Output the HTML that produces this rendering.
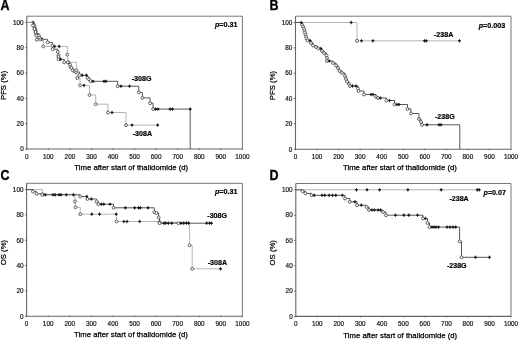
<!DOCTYPE html>
<html><head><meta charset="utf-8"><style>
html,body{margin:0;padding:0;background:#fff;}
body{width:520px;height:340px;overflow:hidden;}
svg{display:block;filter:blur(0.3px);}
text{font-family:"Liberation Sans",sans-serif;}
.tk{font-size:6.4px;fill:#111;stroke:#111;stroke-width:0.18px;}
.ttl{font-size:7.75px;fill:#000;stroke:#000;stroke-width:0.25px;}
.let{font-size:12.5px;font-weight:bold;fill:#000;stroke:#000;stroke-width:0.3px;}
.lab{font-size:7.1px;font-weight:bold;fill:#000;stroke:#000;stroke-width:0.2px;}
.pv{font-size:7.2px;font-weight:bold;fill:#000;stroke:#000;stroke-width:0.2px;}
</style></head><body>
<svg width="520" height="340" viewBox="0 0 520 340">
<path d="M26.8,16.2 H242.4 V149.0" fill="none" stroke="#777" stroke-width="1"/>
<path d="M26.8,16.2 V149.0 H242.4" fill="none" stroke="#666" stroke-width="1.1"/>
<path d="M25.2,22.40 H26.8" stroke="#555" stroke-width="0.9"/>
<text x="23.70" y="24.70" class="tk" text-anchor="end">100</text>
<path d="M25.2,47.72 H26.8" stroke="#555" stroke-width="0.9"/>
<text x="23.70" y="50.02" class="tk" text-anchor="end">80</text>
<path d="M25.2,73.04 H26.8" stroke="#555" stroke-width="0.9"/>
<text x="23.70" y="75.34" class="tk" text-anchor="end">60</text>
<path d="M25.2,98.36 H26.8" stroke="#555" stroke-width="0.9"/>
<text x="23.70" y="100.66" class="tk" text-anchor="end">40</text>
<path d="M25.2,123.68 H26.8" stroke="#555" stroke-width="0.9"/>
<text x="23.70" y="125.98" class="tk" text-anchor="end">20</text>
<path d="M25.2,149.00 H26.8" stroke="#555" stroke-width="0.9"/>
<text x="23.70" y="151.30" class="tk" text-anchor="end">0</text>
<path d="M26.80,148.6 V150.0" stroke="#555" stroke-width="0.9"/>
<text x="26.80" y="158.50" class="tk" text-anchor="middle">0</text>
<path d="M48.36,148.6 V150.0" stroke="#555" stroke-width="0.9"/>
<text x="48.36" y="158.50" class="tk" text-anchor="middle">100</text>
<path d="M69.92,148.6 V150.0" stroke="#555" stroke-width="0.9"/>
<text x="69.92" y="158.50" class="tk" text-anchor="middle">200</text>
<path d="M91.48,148.6 V150.0" stroke="#555" stroke-width="0.9"/>
<text x="91.48" y="158.50" class="tk" text-anchor="middle">300</text>
<path d="M113.04,148.6 V150.0" stroke="#555" stroke-width="0.9"/>
<text x="113.04" y="158.50" class="tk" text-anchor="middle">400</text>
<path d="M134.60,148.6 V150.0" stroke="#555" stroke-width="0.9"/>
<text x="134.60" y="158.50" class="tk" text-anchor="middle">500</text>
<path d="M156.16,148.6 V150.0" stroke="#555" stroke-width="0.9"/>
<text x="156.16" y="158.50" class="tk" text-anchor="middle">600</text>
<path d="M177.72,148.6 V150.0" stroke="#555" stroke-width="0.9"/>
<text x="177.72" y="158.50" class="tk" text-anchor="middle">700</text>
<path d="M199.28,148.6 V150.0" stroke="#555" stroke-width="0.9"/>
<text x="199.28" y="158.50" class="tk" text-anchor="middle">800</text>
<path d="M220.84,148.6 V150.0" stroke="#555" stroke-width="0.9"/>
<text x="220.84" y="158.50" class="tk" text-anchor="middle">900</text>
<path d="M242.40,148.6 V150.0" stroke="#555" stroke-width="0.9"/>
<text x="242.40" y="158.50" class="tk" text-anchor="middle">1000</text>
<text x="74.30" y="170.20" class="ttl">Time after start of thalidomide (d)</text>
<text transform="translate(5.9,85.40) rotate(-90)" class="ttl" text-anchor="middle">PFS (%)</text>
<text transform="translate(0.50,10.10) scale(1,1.1)" class="let">A</text>
<path d="M26.8,22.4 H33.0 H33.8 V24.6 H34.5 V26.6 H35.3 V28.9 H35.8 V31.2 H36.1 V33.6 H38.9 V35.6 H39.5 V37.7 H40.5 V39.3 H42.0 H46.3 H47.6 V42.4 H52.4 V45.8 H52.6 V49.2 H57.8 V51.9 H58.5 V55.2 V57.0 H58.6 V59.3 H60.5 H64.2 V62.3 H68.8 H70.0 V64.5 H70.5 V66.8 H71.5 V68.0 H72.8 V70.3 H74.6 V71.4 H76.1 V72.1 H79.6 V75.3 H82.2 H86.4 H87.6 V77.9 H89.1 V79.4 H90.6 V81.3 H93.0 H104.0 H106.0 H117.7 V86.2 H121.0 H129.5 H138.6 H138.8 V92.4 H142.4 V97.9 H150.1 V103.2 H153.1 V109.1 H155.6 H158.0 H170.1 H172.5 H190.2 V149.0" fill="none" stroke="#444" stroke-width="0.9"/>
<circle cx="33.8" cy="24.6" r="1.45" fill="#fff" stroke="#333" stroke-width="0.75"/>
<circle cx="34.5" cy="26.6" r="1.45" fill="#fff" stroke="#333" stroke-width="0.75"/>
<circle cx="35.3" cy="28.9" r="1.45" fill="#fff" stroke="#333" stroke-width="0.75"/>
<circle cx="35.8" cy="31.2" r="1.45" fill="#fff" stroke="#333" stroke-width="0.75"/>
<circle cx="36.1" cy="33.6" r="1.45" fill="#fff" stroke="#333" stroke-width="0.75"/>
<circle cx="38.9" cy="35.6" r="1.45" fill="#fff" stroke="#333" stroke-width="0.75"/>
<circle cx="39.5" cy="37.7" r="1.45" fill="#fff" stroke="#333" stroke-width="0.75"/>
<circle cx="40.5" cy="39.3" r="1.45" fill="#fff" stroke="#333" stroke-width="0.75"/>
<circle cx="47.6" cy="42.4" r="1.45" fill="#fff" stroke="#333" stroke-width="0.75"/>
<circle cx="52.4" cy="45.8" r="1.45" fill="#fff" stroke="#333" stroke-width="0.75"/>
<circle cx="52.6" cy="49.2" r="1.45" fill="#fff" stroke="#333" stroke-width="0.75"/>
<circle cx="57.8" cy="51.9" r="1.45" fill="#fff" stroke="#333" stroke-width="0.75"/>
<circle cx="58.5" cy="55.2" r="1.45" fill="#fff" stroke="#333" stroke-width="0.75"/>
<circle cx="58.5" cy="57.0" r="1.45" fill="#fff" stroke="#333" stroke-width="0.75"/>
<circle cx="58.6" cy="59.3" r="1.45" fill="#fff" stroke="#333" stroke-width="0.75"/>
<circle cx="64.2" cy="62.3" r="1.45" fill="#fff" stroke="#333" stroke-width="0.75"/>
<circle cx="70.0" cy="64.5" r="1.45" fill="#fff" stroke="#333" stroke-width="0.75"/>
<circle cx="70.5" cy="66.8" r="1.45" fill="#fff" stroke="#333" stroke-width="0.75"/>
<circle cx="71.5" cy="68.0" r="1.45" fill="#fff" stroke="#333" stroke-width="0.75"/>
<circle cx="72.8" cy="70.3" r="1.45" fill="#fff" stroke="#333" stroke-width="0.75"/>
<circle cx="74.6" cy="71.4" r="1.45" fill="#fff" stroke="#333" stroke-width="0.75"/>
<circle cx="76.1" cy="72.1" r="1.45" fill="#fff" stroke="#333" stroke-width="0.75"/>
<circle cx="79.6" cy="75.3" r="1.45" fill="#fff" stroke="#333" stroke-width="0.75"/>
<circle cx="87.6" cy="77.9" r="1.45" fill="#fff" stroke="#333" stroke-width="0.75"/>
<circle cx="89.1" cy="79.4" r="1.45" fill="#fff" stroke="#333" stroke-width="0.75"/>
<circle cx="90.6" cy="81.3" r="1.45" fill="#fff" stroke="#333" stroke-width="0.75"/>
<circle cx="117.7" cy="86.2" r="1.45" fill="#fff" stroke="#333" stroke-width="0.75"/>
<circle cx="138.8" cy="92.4" r="1.45" fill="#fff" stroke="#333" stroke-width="0.75"/>
<circle cx="142.4" cy="97.9" r="1.45" fill="#fff" stroke="#333" stroke-width="0.75"/>
<circle cx="150.1" cy="103.2" r="1.45" fill="#fff" stroke="#333" stroke-width="0.75"/>
<circle cx="153.1" cy="109.1" r="1.45" fill="#fff" stroke="#333" stroke-width="0.75"/>
<path d="M31.6,22.4 L33.0,21.299999999999997 L34.4,22.4 L33.0,23.5 Z M33.0,20.599999999999998 V24.2" fill="#111" stroke="#111" stroke-width="0.5"/>
<path d="M40.6,39.3 L42.0,38.199999999999996 L43.4,39.3 L42.0,40.4 Z M42.0,37.5 V41.099999999999994" fill="#111" stroke="#111" stroke-width="0.5"/>
<path d="M59.1,59.3 L60.5,58.199999999999996 L61.9,59.3 L60.5,60.4 Z M60.5,57.5 V61.099999999999994" fill="#111" stroke="#111" stroke-width="0.5"/>
<path d="M67.39999999999999,62.3 L68.8,61.199999999999996 L70.2,62.3 L68.8,63.4 Z M68.8,60.5 V64.1" fill="#111" stroke="#111" stroke-width="0.5"/>
<path d="M80.8,75.3 L82.2,74.2 L83.60000000000001,75.3 L82.2,76.39999999999999 Z M82.2,73.5 V77.1" fill="#111" stroke="#111" stroke-width="0.5"/>
<path d="M85.0,75.3 L86.4,74.2 L87.80000000000001,75.3 L86.4,76.39999999999999 Z M86.4,73.5 V77.1" fill="#111" stroke="#111" stroke-width="0.5"/>
<path d="M91.6,81.3 L93.0,80.2 L94.4,81.3 L93.0,82.39999999999999 Z M93.0,79.5 V83.1" fill="#111" stroke="#111" stroke-width="0.5"/>
<path d="M102.6,81.3 L104.0,80.2 L105.4,81.3 L104.0,82.39999999999999 Z M104.0,79.5 V83.1" fill="#111" stroke="#111" stroke-width="0.5"/>
<path d="M104.6,81.3 L106.0,80.2 L107.4,81.3 L106.0,82.39999999999999 Z M106.0,79.5 V83.1" fill="#111" stroke="#111" stroke-width="0.5"/>
<path d="M119.6,86.2 L121.0,85.10000000000001 L122.4,86.2 L121.0,87.3 Z M121.0,84.4 V88.0" fill="#111" stroke="#111" stroke-width="0.5"/>
<path d="M128.1,86.2 L129.5,85.10000000000001 L130.9,86.2 L129.5,87.3 Z M129.5,84.4 V88.0" fill="#111" stroke="#111" stroke-width="0.5"/>
<path d="M154.2,109.1 L155.6,108.0 L157.0,109.1 L155.6,110.19999999999999 Z M155.6,107.3 V110.89999999999999" fill="#111" stroke="#111" stroke-width="0.5"/>
<path d="M156.6,109.1 L158.0,108.0 L159.4,109.1 L158.0,110.19999999999999 Z M158.0,107.3 V110.89999999999999" fill="#111" stroke="#111" stroke-width="0.5"/>
<path d="M168.7,109.1 L170.1,108.0 L171.5,109.1 L170.1,110.19999999999999 Z M170.1,107.3 V110.89999999999999" fill="#111" stroke="#111" stroke-width="0.5"/>
<path d="M171.1,109.1 L172.5,108.0 L173.9,109.1 L172.5,110.19999999999999 Z M172.5,107.3 V110.89999999999999" fill="#111" stroke="#111" stroke-width="0.5"/>
<path d="M188.79999999999998,109.1 L190.2,108.0 L191.6,109.1 L190.2,110.19999999999999 Z M190.2,107.3 V110.89999999999999" fill="#111" stroke="#111" stroke-width="0.5"/>
<path d="M26.8,22.4 H32.0 H33.0 V25.5 H34.5 V29.0 H35.5 V32.0 H36.2 V35.5 H36.8 V39.7 H43.3 V46.4 H54.6 H59.2 H67.3 V54.6 H67.7 V62.3 H76.4 V70.4 H77.3 V78.0 H80.0 V85.4 H84.0 H89.5 V95.0 H95.7 V104.2 H108.0 V112.5 H112.0 H126.0 V125.1 H132.0 H157.7" fill="none" stroke="#aeaeae" stroke-width="0.9"/>
<circle cx="33.0" cy="25.5" r="1.45" fill="#fff" stroke="#333" stroke-width="0.75"/>
<circle cx="34.5" cy="29.0" r="1.45" fill="#fff" stroke="#333" stroke-width="0.75"/>
<circle cx="35.5" cy="32.0" r="1.45" fill="#fff" stroke="#333" stroke-width="0.75"/>
<circle cx="36.2" cy="35.5" r="1.45" fill="#fff" stroke="#333" stroke-width="0.75"/>
<circle cx="36.8" cy="39.7" r="1.45" fill="#fff" stroke="#333" stroke-width="0.75"/>
<circle cx="43.3" cy="46.4" r="1.45" fill="#fff" stroke="#333" stroke-width="0.75"/>
<circle cx="67.3" cy="54.6" r="1.45" fill="#fff" stroke="#333" stroke-width="0.75"/>
<circle cx="67.7" cy="62.3" r="1.45" fill="#fff" stroke="#333" stroke-width="0.75"/>
<circle cx="76.4" cy="70.4" r="1.45" fill="#fff" stroke="#333" stroke-width="0.75"/>
<circle cx="77.3" cy="78.0" r="1.45" fill="#fff" stroke="#333" stroke-width="0.75"/>
<circle cx="80.0" cy="85.4" r="1.45" fill="#fff" stroke="#333" stroke-width="0.75"/>
<circle cx="89.5" cy="95.0" r="1.45" fill="#fff" stroke="#333" stroke-width="0.75"/>
<circle cx="95.7" cy="104.2" r="1.45" fill="#fff" stroke="#333" stroke-width="0.75"/>
<circle cx="108.0" cy="112.5" r="1.45" fill="#fff" stroke="#333" stroke-width="0.75"/>
<circle cx="126.0" cy="125.1" r="1.45" fill="#fff" stroke="#333" stroke-width="0.75"/>
<path d="M53.2,46.4 L54.6,45.3 L56.0,46.4 L54.6,47.5 Z M54.6,44.6 V48.199999999999996" fill="#111" stroke="#111" stroke-width="0.5"/>
<path d="M57.800000000000004,46.4 L59.2,45.3 L60.6,46.4 L59.2,47.5 Z M59.2,44.6 V48.199999999999996" fill="#111" stroke="#111" stroke-width="0.5"/>
<path d="M82.6,85.4 L84.0,84.30000000000001 L85.4,85.4 L84.0,86.5 Z M84.0,83.60000000000001 V87.2" fill="#111" stroke="#111" stroke-width="0.5"/>
<path d="M110.6,112.5 L112.0,111.4 L113.4,112.5 L112.0,113.6 Z M112.0,110.7 V114.3" fill="#111" stroke="#111" stroke-width="0.5"/>
<path d="M130.6,125.1 L132.0,124.0 L133.4,125.1 L132.0,126.19999999999999 Z M132.0,123.3 V126.89999999999999" fill="#111" stroke="#111" stroke-width="0.5"/>
<path d="M156.29999999999998,125.1 L157.7,124.0 L159.1,125.1 L157.7,126.19999999999999 Z M157.7,123.3 V126.89999999999999" fill="#111" stroke="#111" stroke-width="0.5"/>
<text x="131.7" y="81.2" class="lab">-308G</text>
<text x="132.7" y="135.7" class="lab">-308A</text>
<text x="214.9" y="26.8" class="pv"><tspan font-style="italic">p</tspan>=0.31</text>
<path d="M295.5,16.2 H511.0 V149.2" fill="none" stroke="#777" stroke-width="1"/>
<path d="M295.5,16.2 V149.2 H511.0" fill="none" stroke="#666" stroke-width="1.1"/>
<path d="M293.9,22.50 H295.5" stroke="#555" stroke-width="0.9"/>
<text x="292.40" y="24.80" class="tk" text-anchor="end">100</text>
<path d="M293.9,47.84 H295.5" stroke="#555" stroke-width="0.9"/>
<text x="292.40" y="50.14" class="tk" text-anchor="end">80</text>
<path d="M293.9,73.18 H295.5" stroke="#555" stroke-width="0.9"/>
<text x="292.40" y="75.48" class="tk" text-anchor="end">60</text>
<path d="M293.9,98.52 H295.5" stroke="#555" stroke-width="0.9"/>
<text x="292.40" y="100.82" class="tk" text-anchor="end">40</text>
<path d="M293.9,123.86 H295.5" stroke="#555" stroke-width="0.9"/>
<text x="292.40" y="126.16" class="tk" text-anchor="end">20</text>
<path d="M293.9,149.20 H295.5" stroke="#555" stroke-width="0.9"/>
<text x="292.40" y="151.50" class="tk" text-anchor="end">0</text>
<path d="M295.50,148.79999999999998 V150.2" stroke="#555" stroke-width="0.9"/>
<text x="295.50" y="158.70" class="tk" text-anchor="middle">0</text>
<path d="M317.05,148.79999999999998 V150.2" stroke="#555" stroke-width="0.9"/>
<text x="317.05" y="158.70" class="tk" text-anchor="middle">100</text>
<path d="M338.60,148.79999999999998 V150.2" stroke="#555" stroke-width="0.9"/>
<text x="338.60" y="158.70" class="tk" text-anchor="middle">200</text>
<path d="M360.15,148.79999999999998 V150.2" stroke="#555" stroke-width="0.9"/>
<text x="360.15" y="158.70" class="tk" text-anchor="middle">300</text>
<path d="M381.70,148.79999999999998 V150.2" stroke="#555" stroke-width="0.9"/>
<text x="381.70" y="158.70" class="tk" text-anchor="middle">400</text>
<path d="M403.25,148.79999999999998 V150.2" stroke="#555" stroke-width="0.9"/>
<text x="403.25" y="158.70" class="tk" text-anchor="middle">500</text>
<path d="M424.80,148.79999999999998 V150.2" stroke="#555" stroke-width="0.9"/>
<text x="424.80" y="158.70" class="tk" text-anchor="middle">600</text>
<path d="M446.35,148.79999999999998 V150.2" stroke="#555" stroke-width="0.9"/>
<text x="446.35" y="158.70" class="tk" text-anchor="middle">700</text>
<path d="M467.90,148.79999999999998 V150.2" stroke="#555" stroke-width="0.9"/>
<text x="467.90" y="158.70" class="tk" text-anchor="middle">800</text>
<path d="M489.45,148.79999999999998 V150.2" stroke="#555" stroke-width="0.9"/>
<text x="489.45" y="158.70" class="tk" text-anchor="middle">900</text>
<path d="M511.00,148.79999999999998 V150.2" stroke="#555" stroke-width="0.9"/>
<text x="511.00" y="158.70" class="tk" text-anchor="middle">1000</text>
<text x="343.00" y="170.40" class="ttl">Time after start of thalidomide (d)</text>
<text transform="translate(274.59999999999997,85.50) rotate(-90)" class="ttl" text-anchor="middle">PFS (%)</text>
<text transform="translate(269.60,10.10) scale(1,1.1)" class="let">B</text>
<path d="M295.5,22.5 H351.2 H357.0 V40.8 H361.5 H372.9 H424.5 H426.3 H459.5" fill="none" stroke="#aeaeae" stroke-width="0.9"/>
<circle cx="357.0" cy="40.8" r="1.45" fill="#fff" stroke="#333" stroke-width="0.75"/>
<path d="M349.8,22.5 L351.2,21.4 L352.59999999999997,22.5 L351.2,23.6 Z M351.2,20.7 V24.3" fill="#111" stroke="#111" stroke-width="0.5"/>
<path d="M360.1,40.8 L361.5,39.699999999999996 L362.9,40.8 L361.5,41.9 Z M361.5,39.0 V42.599999999999994" fill="#111" stroke="#111" stroke-width="0.5"/>
<path d="M371.5,40.8 L372.9,39.699999999999996 L374.29999999999995,40.8 L372.9,41.9 Z M372.9,39.0 V42.599999999999994" fill="#111" stroke="#111" stroke-width="0.5"/>
<path d="M423.1,40.8 L424.5,39.699999999999996 L425.9,40.8 L424.5,41.9 Z M424.5,39.0 V42.599999999999994" fill="#111" stroke="#111" stroke-width="0.5"/>
<path d="M424.90000000000003,40.8 L426.3,39.699999999999996 L427.7,40.8 L426.3,41.9 Z M426.3,39.0 V42.599999999999994" fill="#111" stroke="#111" stroke-width="0.5"/>
<path d="M458.1,40.8 L459.5,39.699999999999996 L460.9,40.8 L459.5,41.9 Z M459.5,39.0 V42.599999999999994" fill="#111" stroke="#111" stroke-width="0.5"/>
<path d="M295.5,22.5 H301.3 H302.0 V24.5 H303.0 V26.5 H304.0 V28.5 H304.5 V30.5 H305.0 V32.5 H305.5 V34.5 H306.0 V36.5 H306.5 V38.5 H307.5 V40.5 H310.0 H311.0 V43.0 H313.0 V45.5 H316.0 V47.0 H318.5 V48.5 H320.8 H322.0 V51.0 H324.0 V53.0 H326.5 V55.5 H327.0 V58.0 V61.0 H329.3 H333.0 V63.0 H336.0 V65.5 H338.0 V68.0 H339.5 V71.0 H342.0 V73.0 H345.0 V76.0 H346.0 V79.0 H347.0 V81.5 H349.0 V84.0 H350.0 V86.0 H352.5 H356.0 H358.0 V88.5 H358.5 V91.0 H364.0 V94.5 H371.0 H373.0 H376.0 V97.0 H378.0 V98.0 H380.3 H386.5 V100.5 H389.5 H394.5 V104.5 H397.0 H399.0 H407.5 V109.0 H411.0 V113.5 H419.0 V119.0 H421.0 V122.0 H422.0 V124.8 H427.0 H439.0 H441.0 H459.8 V149.2" fill="none" stroke="#444" stroke-width="0.9"/>
<circle cx="302.0" cy="24.5" r="1.45" fill="#fff" stroke="#333" stroke-width="0.75"/>
<circle cx="303.0" cy="26.5" r="1.45" fill="#fff" stroke="#333" stroke-width="0.75"/>
<circle cx="304.0" cy="28.5" r="1.45" fill="#fff" stroke="#333" stroke-width="0.75"/>
<circle cx="304.5" cy="30.5" r="1.45" fill="#fff" stroke="#333" stroke-width="0.75"/>
<circle cx="305.0" cy="32.5" r="1.45" fill="#fff" stroke="#333" stroke-width="0.75"/>
<circle cx="305.5" cy="34.5" r="1.45" fill="#fff" stroke="#333" stroke-width="0.75"/>
<circle cx="306.0" cy="36.5" r="1.45" fill="#fff" stroke="#333" stroke-width="0.75"/>
<circle cx="306.5" cy="38.5" r="1.45" fill="#fff" stroke="#333" stroke-width="0.75"/>
<circle cx="307.5" cy="40.5" r="1.45" fill="#fff" stroke="#333" stroke-width="0.75"/>
<circle cx="311.0" cy="43.0" r="1.45" fill="#fff" stroke="#333" stroke-width="0.75"/>
<circle cx="313.0" cy="45.5" r="1.45" fill="#fff" stroke="#333" stroke-width="0.75"/>
<circle cx="316.0" cy="47.0" r="1.45" fill="#fff" stroke="#333" stroke-width="0.75"/>
<circle cx="318.5" cy="48.5" r="1.45" fill="#fff" stroke="#333" stroke-width="0.75"/>
<circle cx="322.0" cy="51.0" r="1.45" fill="#fff" stroke="#333" stroke-width="0.75"/>
<circle cx="324.0" cy="53.0" r="1.45" fill="#fff" stroke="#333" stroke-width="0.75"/>
<circle cx="326.5" cy="55.5" r="1.45" fill="#fff" stroke="#333" stroke-width="0.75"/>
<circle cx="327.0" cy="58.0" r="1.45" fill="#fff" stroke="#333" stroke-width="0.75"/>
<circle cx="327.0" cy="61.0" r="1.45" fill="#fff" stroke="#333" stroke-width="0.75"/>
<circle cx="333.0" cy="63.0" r="1.45" fill="#fff" stroke="#333" stroke-width="0.75"/>
<circle cx="336.0" cy="65.5" r="1.45" fill="#fff" stroke="#333" stroke-width="0.75"/>
<circle cx="338.0" cy="68.0" r="1.45" fill="#fff" stroke="#333" stroke-width="0.75"/>
<circle cx="339.5" cy="71.0" r="1.45" fill="#fff" stroke="#333" stroke-width="0.75"/>
<circle cx="342.0" cy="73.0" r="1.45" fill="#fff" stroke="#333" stroke-width="0.75"/>
<circle cx="345.0" cy="76.0" r="1.45" fill="#fff" stroke="#333" stroke-width="0.75"/>
<circle cx="346.0" cy="79.0" r="1.45" fill="#fff" stroke="#333" stroke-width="0.75"/>
<circle cx="347.0" cy="81.5" r="1.45" fill="#fff" stroke="#333" stroke-width="0.75"/>
<circle cx="349.0" cy="84.0" r="1.45" fill="#fff" stroke="#333" stroke-width="0.75"/>
<circle cx="350.0" cy="86.0" r="1.45" fill="#fff" stroke="#333" stroke-width="0.75"/>
<circle cx="358.0" cy="88.5" r="1.45" fill="#fff" stroke="#333" stroke-width="0.75"/>
<circle cx="358.5" cy="91.0" r="1.45" fill="#fff" stroke="#333" stroke-width="0.75"/>
<circle cx="364.0" cy="94.5" r="1.45" fill="#fff" stroke="#333" stroke-width="0.75"/>
<circle cx="376.0" cy="97.0" r="1.45" fill="#fff" stroke="#333" stroke-width="0.75"/>
<circle cx="378.0" cy="98.0" r="1.45" fill="#fff" stroke="#333" stroke-width="0.75"/>
<circle cx="386.5" cy="100.5" r="1.45" fill="#fff" stroke="#333" stroke-width="0.75"/>
<circle cx="394.5" cy="104.5" r="1.45" fill="#fff" stroke="#333" stroke-width="0.75"/>
<circle cx="407.5" cy="109.0" r="1.45" fill="#fff" stroke="#333" stroke-width="0.75"/>
<circle cx="411.0" cy="113.5" r="1.45" fill="#fff" stroke="#333" stroke-width="0.75"/>
<circle cx="419.0" cy="119.0" r="1.45" fill="#fff" stroke="#333" stroke-width="0.75"/>
<circle cx="421.0" cy="122.0" r="1.45" fill="#fff" stroke="#333" stroke-width="0.75"/>
<circle cx="422.0" cy="124.8" r="1.45" fill="#fff" stroke="#333" stroke-width="0.75"/>
<path d="M299.90000000000003,22.5 L301.3,21.4 L302.7,22.5 L301.3,23.6 Z M301.3,20.7 V24.3" fill="#111" stroke="#111" stroke-width="0.5"/>
<path d="M308.6,40.5 L310.0,39.4 L311.4,40.5 L310.0,41.6 Z M310.0,38.7 V42.3" fill="#111" stroke="#111" stroke-width="0.5"/>
<path d="M319.40000000000003,48.5 L320.8,47.4 L322.2,48.5 L320.8,49.6 Z M320.8,46.7 V50.3" fill="#111" stroke="#111" stroke-width="0.5"/>
<path d="M327.90000000000003,61.0 L329.3,59.9 L330.7,61.0 L329.3,62.1 Z M329.3,59.2 V62.8" fill="#111" stroke="#111" stroke-width="0.5"/>
<path d="M351.1,86.0 L352.5,84.9 L353.9,86.0 L352.5,87.1 Z M352.5,84.2 V87.8" fill="#111" stroke="#111" stroke-width="0.5"/>
<path d="M354.6,86.0 L356.0,84.9 L357.4,86.0 L356.0,87.1 Z M356.0,84.2 V87.8" fill="#111" stroke="#111" stroke-width="0.5"/>
<path d="M369.6,94.5 L371.0,93.4 L372.4,94.5 L371.0,95.6 Z M371.0,92.7 V96.3" fill="#111" stroke="#111" stroke-width="0.5"/>
<path d="M371.6,94.5 L373.0,93.4 L374.4,94.5 L373.0,95.6 Z M373.0,92.7 V96.3" fill="#111" stroke="#111" stroke-width="0.5"/>
<path d="M378.90000000000003,98.0 L380.3,96.9 L381.7,98.0 L380.3,99.1 Z M380.3,96.2 V99.8" fill="#111" stroke="#111" stroke-width="0.5"/>
<path d="M388.1,100.5 L389.5,99.4 L390.9,100.5 L389.5,101.6 Z M389.5,98.7 V102.3" fill="#111" stroke="#111" stroke-width="0.5"/>
<path d="M395.6,104.5 L397.0,103.4 L398.4,104.5 L397.0,105.6 Z M397.0,102.7 V106.3" fill="#111" stroke="#111" stroke-width="0.5"/>
<path d="M397.6,104.5 L399.0,103.4 L400.4,104.5 L399.0,105.6 Z M399.0,102.7 V106.3" fill="#111" stroke="#111" stroke-width="0.5"/>
<path d="M425.6,124.8 L427.0,123.7 L428.4,124.8 L427.0,125.89999999999999 Z M427.0,123.0 V126.6" fill="#111" stroke="#111" stroke-width="0.5"/>
<path d="M437.6,124.8 L439.0,123.7 L440.4,124.8 L439.0,125.89999999999999 Z M439.0,123.0 V126.6" fill="#111" stroke="#111" stroke-width="0.5"/>
<path d="M439.6,124.8 L441.0,123.7 L442.4,124.8 L441.0,125.89999999999999 Z M441.0,123.0 V126.6" fill="#111" stroke="#111" stroke-width="0.5"/>
<text x="434.0" y="36.7" class="lab">-238A</text>
<text x="435.0" y="119.3" class="lab">-238G</text>
<text x="478.7" y="28.4" class="pv"><tspan font-style="italic">p</tspan>=0.003</text>
<path d="M26.6,183.3 H242.4 V316.2" fill="none" stroke="#777" stroke-width="1"/>
<path d="M26.6,183.3 V316.2 H242.4" fill="none" stroke="#666" stroke-width="1.1"/>
<path d="M25.0,189.60 H26.6" stroke="#555" stroke-width="0.9"/>
<text x="23.50" y="191.90" class="tk" text-anchor="end">100</text>
<path d="M25.0,214.92 H26.6" stroke="#555" stroke-width="0.9"/>
<text x="23.50" y="217.22" class="tk" text-anchor="end">80</text>
<path d="M25.0,240.24 H26.6" stroke="#555" stroke-width="0.9"/>
<text x="23.50" y="242.54" class="tk" text-anchor="end">60</text>
<path d="M25.0,265.56 H26.6" stroke="#555" stroke-width="0.9"/>
<text x="23.50" y="267.86" class="tk" text-anchor="end">40</text>
<path d="M25.0,290.88 H26.6" stroke="#555" stroke-width="0.9"/>
<text x="23.50" y="293.18" class="tk" text-anchor="end">20</text>
<path d="M25.0,316.20 H26.6" stroke="#555" stroke-width="0.9"/>
<text x="23.50" y="318.50" class="tk" text-anchor="end">0</text>
<path d="M26.60,315.8 V317.2" stroke="#555" stroke-width="0.9"/>
<text x="26.60" y="325.70" class="tk" text-anchor="middle">0</text>
<path d="M48.18,315.8 V317.2" stroke="#555" stroke-width="0.9"/>
<text x="48.18" y="325.70" class="tk" text-anchor="middle">100</text>
<path d="M69.76,315.8 V317.2" stroke="#555" stroke-width="0.9"/>
<text x="69.76" y="325.70" class="tk" text-anchor="middle">200</text>
<path d="M91.34,315.8 V317.2" stroke="#555" stroke-width="0.9"/>
<text x="91.34" y="325.70" class="tk" text-anchor="middle">300</text>
<path d="M112.92,315.8 V317.2" stroke="#555" stroke-width="0.9"/>
<text x="112.92" y="325.70" class="tk" text-anchor="middle">400</text>
<path d="M134.50,315.8 V317.2" stroke="#555" stroke-width="0.9"/>
<text x="134.50" y="325.70" class="tk" text-anchor="middle">500</text>
<path d="M156.08,315.8 V317.2" stroke="#555" stroke-width="0.9"/>
<text x="156.08" y="325.70" class="tk" text-anchor="middle">600</text>
<path d="M177.66,315.8 V317.2" stroke="#555" stroke-width="0.9"/>
<text x="177.66" y="325.70" class="tk" text-anchor="middle">700</text>
<path d="M199.24,315.8 V317.2" stroke="#555" stroke-width="0.9"/>
<text x="199.24" y="325.70" class="tk" text-anchor="middle">800</text>
<path d="M220.82,315.8 V317.2" stroke="#555" stroke-width="0.9"/>
<text x="220.82" y="325.70" class="tk" text-anchor="middle">900</text>
<path d="M242.40,315.8 V317.2" stroke="#555" stroke-width="0.9"/>
<text x="242.40" y="325.70" class="tk" text-anchor="middle">1000</text>
<text x="74.10" y="337.40" class="ttl">Time after start of thalidomide (d)</text>
<text transform="translate(5.700000000000001,252.55) rotate(-90)" class="ttl" text-anchor="middle">OS (%)</text>
<text transform="translate(0.60,179.60) scale(1,1.1)" class="let">C</text>
<path d="M26.6,189.6 H42.6 V194.3 H75.0 V201.5 H75.5 V207.3 H80.2 V214.2 H91.8 H99.5 H116.2 H116.5 V221.5 H123.8 H127.0 H139.7 H159.0 H159.5 V222.3 H189.6 V245.3 H192.0 H192.2 V268.8 H220.6" fill="none" stroke="#aeaeae" stroke-width="0.9"/>
<circle cx="42.6" cy="194.3" r="1.45" fill="#fff" stroke="#333" stroke-width="0.75"/>
<circle cx="75.0" cy="201.5" r="1.45" fill="#fff" stroke="#333" stroke-width="0.75"/>
<circle cx="75.5" cy="207.3" r="1.45" fill="#fff" stroke="#333" stroke-width="0.75"/>
<circle cx="80.2" cy="214.2" r="1.45" fill="#fff" stroke="#333" stroke-width="0.75"/>
<circle cx="116.5" cy="221.5" r="1.45" fill="#fff" stroke="#333" stroke-width="0.75"/>
<circle cx="159.5" cy="222.3" r="1.45" fill="#fff" stroke="#333" stroke-width="0.75"/>
<circle cx="189.6" cy="245.3" r="1.45" fill="#fff" stroke="#333" stroke-width="0.75"/>
<circle cx="192.2" cy="268.8" r="1.45" fill="#fff" stroke="#333" stroke-width="0.75"/>
<path d="M90.39999999999999,214.2 L91.8,213.1 L93.2,214.2 L91.8,215.29999999999998 Z M91.8,212.39999999999998 V216.0" fill="#111" stroke="#111" stroke-width="0.5"/>
<path d="M98.1,214.2 L99.5,213.1 L100.9,214.2 L99.5,215.29999999999998 Z M99.5,212.39999999999998 V216.0" fill="#111" stroke="#111" stroke-width="0.5"/>
<path d="M114.8,214.2 L116.2,213.1 L117.60000000000001,214.2 L116.2,215.29999999999998 Z M116.2,212.39999999999998 V216.0" fill="#111" stroke="#111" stroke-width="0.5"/>
<path d="M122.39999999999999,221.5 L123.8,220.4 L125.2,221.5 L123.8,222.6 Z M123.8,219.7 V223.3" fill="#111" stroke="#111" stroke-width="0.5"/>
<path d="M125.6,221.5 L127.0,220.4 L128.4,221.5 L127.0,222.6 Z M127.0,219.7 V223.3" fill="#111" stroke="#111" stroke-width="0.5"/>
<path d="M138.29999999999998,221.5 L139.7,220.4 L141.1,221.5 L139.7,222.6 Z M139.7,219.7 V223.3" fill="#111" stroke="#111" stroke-width="0.5"/>
<path d="M219.2,268.8 L220.6,267.7 L222.0,268.8 L220.6,269.90000000000003 Z M220.6,267.0 V270.6" fill="#111" stroke="#111" stroke-width="0.5"/>
<path d="M26.6,189.6 H32.9 V191.5 H36.5 V193.8 H42.2 V194.8 H45.2 H53.0 H55.2 H59.0 H61.0 H66.3 H73.4 H80.2 V196.5 H86.8 H87.5 V199.0 H91.4 H96.5 V201.5 H98.3 V204.2 H101.4 H103.8 H110.0 H113.5 V207.8 H125.4 H134.6 H138.5 H140.3 H148.0 H154.3 V212.3 H156.5 V213.0 H158.6 V217.4 H159.6 V223.2 H164.0 H165.5 H168.3 H171.8 H178.5 V223.2 H181.0 H183.7 H186.4 H188.5 H206.7 H209.6 H211.5" fill="none" stroke="#444" stroke-width="0.9"/>
<circle cx="32.9" cy="191.5" r="1.45" fill="#fff" stroke="#333" stroke-width="0.75"/>
<circle cx="36.5" cy="193.8" r="1.45" fill="#fff" stroke="#333" stroke-width="0.75"/>
<circle cx="42.2" cy="194.8" r="1.45" fill="#fff" stroke="#333" stroke-width="0.75"/>
<circle cx="80.2" cy="196.5" r="1.45" fill="#fff" stroke="#333" stroke-width="0.75"/>
<circle cx="87.5" cy="199.0" r="1.45" fill="#fff" stroke="#333" stroke-width="0.75"/>
<circle cx="96.5" cy="201.5" r="1.45" fill="#fff" stroke="#333" stroke-width="0.75"/>
<circle cx="98.3" cy="204.2" r="1.45" fill="#fff" stroke="#333" stroke-width="0.75"/>
<circle cx="113.5" cy="207.8" r="1.45" fill="#fff" stroke="#333" stroke-width="0.75"/>
<circle cx="154.3" cy="212.3" r="1.45" fill="#fff" stroke="#333" stroke-width="0.75"/>
<circle cx="156.5" cy="213.0" r="1.45" fill="#fff" stroke="#333" stroke-width="0.75"/>
<circle cx="158.6" cy="217.4" r="1.45" fill="#fff" stroke="#333" stroke-width="0.75"/>
<circle cx="159.6" cy="223.2" r="1.45" fill="#fff" stroke="#333" stroke-width="0.75"/>
<circle cx="178.5" cy="223.2" r="1.45" fill="#fff" stroke="#333" stroke-width="0.75"/>
<path d="M43.800000000000004,194.8 L45.2,193.70000000000002 L46.6,194.8 L45.2,195.9 Z M45.2,193.0 V196.60000000000002" fill="#111" stroke="#111" stroke-width="0.5"/>
<path d="M51.6,194.8 L53.0,193.70000000000002 L54.4,194.8 L53.0,195.9 Z M53.0,193.0 V196.60000000000002" fill="#111" stroke="#111" stroke-width="0.5"/>
<path d="M53.800000000000004,194.8 L55.2,193.70000000000002 L56.6,194.8 L55.2,195.9 Z M55.2,193.0 V196.60000000000002" fill="#111" stroke="#111" stroke-width="0.5"/>
<path d="M57.6,194.8 L59.0,193.70000000000002 L60.4,194.8 L59.0,195.9 Z M59.0,193.0 V196.60000000000002" fill="#111" stroke="#111" stroke-width="0.5"/>
<path d="M59.6,194.8 L61.0,193.70000000000002 L62.4,194.8 L61.0,195.9 Z M61.0,193.0 V196.60000000000002" fill="#111" stroke="#111" stroke-width="0.5"/>
<path d="M64.89999999999999,194.8 L66.3,193.70000000000002 L67.7,194.8 L66.3,195.9 Z M66.3,193.0 V196.60000000000002" fill="#111" stroke="#111" stroke-width="0.5"/>
<path d="M72.0,194.8 L73.4,193.70000000000002 L74.80000000000001,194.8 L73.4,195.9 Z M73.4,193.0 V196.60000000000002" fill="#111" stroke="#111" stroke-width="0.5"/>
<path d="M85.39999999999999,196.5 L86.8,195.4 L88.2,196.5 L86.8,197.6 Z M86.8,194.7 V198.3" fill="#111" stroke="#111" stroke-width="0.5"/>
<path d="M90.0,199.0 L91.4,197.9 L92.80000000000001,199.0 L91.4,200.1 Z M91.4,197.2 V200.8" fill="#111" stroke="#111" stroke-width="0.5"/>
<path d="M100.0,204.2 L101.4,203.1 L102.80000000000001,204.2 L101.4,205.29999999999998 Z M101.4,202.39999999999998 V206.0" fill="#111" stroke="#111" stroke-width="0.5"/>
<path d="M102.39999999999999,204.2 L103.8,203.1 L105.2,204.2 L103.8,205.29999999999998 Z M103.8,202.39999999999998 V206.0" fill="#111" stroke="#111" stroke-width="0.5"/>
<path d="M108.6,204.2 L110.0,203.1 L111.4,204.2 L110.0,205.29999999999998 Z M110.0,202.39999999999998 V206.0" fill="#111" stroke="#111" stroke-width="0.5"/>
<path d="M124.0,207.8 L125.4,206.70000000000002 L126.80000000000001,207.8 L125.4,208.9 Z M125.4,206.0 V209.60000000000002" fill="#111" stroke="#111" stroke-width="0.5"/>
<path d="M133.2,207.8 L134.6,206.70000000000002 L136.0,207.8 L134.6,208.9 Z M134.6,206.0 V209.60000000000002" fill="#111" stroke="#111" stroke-width="0.5"/>
<path d="M137.1,207.8 L138.5,206.70000000000002 L139.9,207.8 L138.5,208.9 Z M138.5,206.0 V209.60000000000002" fill="#111" stroke="#111" stroke-width="0.5"/>
<path d="M138.9,207.8 L140.3,206.70000000000002 L141.70000000000002,207.8 L140.3,208.9 Z M140.3,206.0 V209.60000000000002" fill="#111" stroke="#111" stroke-width="0.5"/>
<path d="M146.6,207.8 L148.0,206.70000000000002 L149.4,207.8 L148.0,208.9 Z M148.0,206.0 V209.60000000000002" fill="#111" stroke="#111" stroke-width="0.5"/>
<path d="M162.6,223.2 L164.0,222.1 L165.4,223.2 L164.0,224.29999999999998 Z M164.0,221.39999999999998 V225.0" fill="#111" stroke="#111" stroke-width="0.5"/>
<path d="M164.1,223.2 L165.5,222.1 L166.9,223.2 L165.5,224.29999999999998 Z M165.5,221.39999999999998 V225.0" fill="#111" stroke="#111" stroke-width="0.5"/>
<path d="M166.9,223.2 L168.3,222.1 L169.70000000000002,223.2 L168.3,224.29999999999998 Z M168.3,221.39999999999998 V225.0" fill="#111" stroke="#111" stroke-width="0.5"/>
<path d="M170.4,223.2 L171.8,222.1 L173.20000000000002,223.2 L171.8,224.29999999999998 Z M171.8,221.39999999999998 V225.0" fill="#111" stroke="#111" stroke-width="0.5"/>
<path d="M179.6,223.2 L181.0,222.1 L182.4,223.2 L181.0,224.29999999999998 Z M181.0,221.39999999999998 V225.0" fill="#111" stroke="#111" stroke-width="0.5"/>
<path d="M182.29999999999998,223.2 L183.7,222.1 L185.1,223.2 L183.7,224.29999999999998 Z M183.7,221.39999999999998 V225.0" fill="#111" stroke="#111" stroke-width="0.5"/>
<path d="M185.0,223.2 L186.4,222.1 L187.8,223.2 L186.4,224.29999999999998 Z M186.4,221.39999999999998 V225.0" fill="#111" stroke="#111" stroke-width="0.5"/>
<path d="M187.1,223.2 L188.5,222.1 L189.9,223.2 L188.5,224.29999999999998 Z M188.5,221.39999999999998 V225.0" fill="#111" stroke="#111" stroke-width="0.5"/>
<path d="M205.29999999999998,223.2 L206.7,222.1 L208.1,223.2 L206.7,224.29999999999998 Z M206.7,221.39999999999998 V225.0" fill="#111" stroke="#111" stroke-width="0.5"/>
<path d="M208.2,223.2 L209.6,222.1 L211.0,223.2 L209.6,224.29999999999998 Z M209.6,221.39999999999998 V225.0" fill="#111" stroke="#111" stroke-width="0.5"/>
<path d="M210.1,223.2 L211.5,222.1 L212.9,223.2 L211.5,224.29999999999998 Z M211.5,221.39999999999998 V225.0" fill="#111" stroke="#111" stroke-width="0.5"/>
<text x="207.3" y="217.8" class="lab">-308G</text>
<text x="207.7" y="264.7" class="lab">-308A</text>
<text x="214.9" y="193.9" class="pv"><tspan font-style="italic">p</tspan>=0.31</text>
<path d="M295.8,183.5 H511.0 V316.4" fill="none" stroke="#777" stroke-width="1"/>
<path d="M295.8,183.5 V316.4 H511.0" fill="none" stroke="#666" stroke-width="1.1"/>
<path d="M294.2,189.80 H295.8" stroke="#555" stroke-width="0.9"/>
<text x="292.70" y="192.10" class="tk" text-anchor="end">100</text>
<path d="M294.2,215.12 H295.8" stroke="#555" stroke-width="0.9"/>
<text x="292.70" y="217.42" class="tk" text-anchor="end">80</text>
<path d="M294.2,240.44 H295.8" stroke="#555" stroke-width="0.9"/>
<text x="292.70" y="242.74" class="tk" text-anchor="end">60</text>
<path d="M294.2,265.76 H295.8" stroke="#555" stroke-width="0.9"/>
<text x="292.70" y="268.06" class="tk" text-anchor="end">40</text>
<path d="M294.2,291.08 H295.8" stroke="#555" stroke-width="0.9"/>
<text x="292.70" y="293.38" class="tk" text-anchor="end">20</text>
<path d="M294.2,316.40 H295.8" stroke="#555" stroke-width="0.9"/>
<text x="292.70" y="318.70" class="tk" text-anchor="end">0</text>
<path d="M295.80,316.0 V317.4" stroke="#555" stroke-width="0.9"/>
<text x="295.80" y="325.90" class="tk" text-anchor="middle">0</text>
<path d="M317.32,316.0 V317.4" stroke="#555" stroke-width="0.9"/>
<text x="317.32" y="325.90" class="tk" text-anchor="middle">100</text>
<path d="M338.84,316.0 V317.4" stroke="#555" stroke-width="0.9"/>
<text x="338.84" y="325.90" class="tk" text-anchor="middle">200</text>
<path d="M360.36,316.0 V317.4" stroke="#555" stroke-width="0.9"/>
<text x="360.36" y="325.90" class="tk" text-anchor="middle">300</text>
<path d="M381.88,316.0 V317.4" stroke="#555" stroke-width="0.9"/>
<text x="381.88" y="325.90" class="tk" text-anchor="middle">400</text>
<path d="M403.40,316.0 V317.4" stroke="#555" stroke-width="0.9"/>
<text x="403.40" y="325.90" class="tk" text-anchor="middle">500</text>
<path d="M424.92,316.0 V317.4" stroke="#555" stroke-width="0.9"/>
<text x="424.92" y="325.90" class="tk" text-anchor="middle">600</text>
<path d="M446.44,316.0 V317.4" stroke="#555" stroke-width="0.9"/>
<text x="446.44" y="325.90" class="tk" text-anchor="middle">700</text>
<path d="M467.96,316.0 V317.4" stroke="#555" stroke-width="0.9"/>
<text x="467.96" y="325.90" class="tk" text-anchor="middle">800</text>
<path d="M489.48,316.0 V317.4" stroke="#555" stroke-width="0.9"/>
<text x="489.48" y="325.90" class="tk" text-anchor="middle">900</text>
<path d="M511.00,316.0 V317.4" stroke="#555" stroke-width="0.9"/>
<text x="511.00" y="325.90" class="tk" text-anchor="middle">1000</text>
<text x="343.30" y="337.60" class="ttl">Time after start of thalidomide (d)</text>
<text transform="translate(274.9,252.75) rotate(-90)" class="ttl" text-anchor="middle">OS (%)</text>
<text transform="translate(269.60,179.60) scale(1,1.1)" class="let">D</text>
<path d="M295.8,189.8 H356.5 H367.0 H379.6 H407.9 H441.2 H477.3 H479.2" fill="none" stroke="#aeaeae" stroke-width="0.9"/>
<path d="M355.1,189.8 L356.5,188.70000000000002 L357.9,189.8 L356.5,190.9 Z M356.5,188.0 V191.60000000000002" fill="#111" stroke="#111" stroke-width="0.5"/>
<path d="M365.6,189.8 L367.0,188.70000000000002 L368.4,189.8 L367.0,190.9 Z M367.0,188.0 V191.60000000000002" fill="#111" stroke="#111" stroke-width="0.5"/>
<path d="M378.20000000000005,189.8 L379.6,188.70000000000002 L381.0,189.8 L379.6,190.9 Z M379.6,188.0 V191.60000000000002" fill="#111" stroke="#111" stroke-width="0.5"/>
<path d="M406.5,189.8 L407.9,188.70000000000002 L409.29999999999995,189.8 L407.9,190.9 Z M407.9,188.0 V191.60000000000002" fill="#111" stroke="#111" stroke-width="0.5"/>
<path d="M439.8,189.8 L441.2,188.70000000000002 L442.59999999999997,189.8 L441.2,190.9 Z M441.2,188.0 V191.60000000000002" fill="#111" stroke="#111" stroke-width="0.5"/>
<path d="M475.90000000000003,189.8 L477.3,188.70000000000002 L478.7,189.8 L477.3,190.9 Z M477.3,188.0 V191.60000000000002" fill="#111" stroke="#111" stroke-width="0.5"/>
<path d="M477.8,189.8 L479.2,188.70000000000002 L480.59999999999997,189.8 L479.2,190.9 Z M479.2,188.0 V191.60000000000002" fill="#111" stroke="#111" stroke-width="0.5"/>
<path d="M295.8,189.8 H301.0 H302.5 V191.2 H305.3 V193.4 H311.5 V195.3 H314.2 H322.0 H324.8 H329.1 H332.5 H335.8 H342.4 H345.0 V198.5 H349.8 V201.8 H355.0 H357.0 V205.2 H361.3 H366.5 V207.0 H369.0 V210.0 H372.0 H374.5 H378.0 H380.5 H383.0 V212.0 H386.0 V215.2 H395.4 H403.8 H408.8 H417.5 H423.0 V218.5 H425.5 H427.5 V223.0 H429.5 V227.1 H432.0 H434.0 H436.0 H438.5 H447.0 H450.0 H453.0 H455.7 H459.4 H459.6 V241.5 H461.5 V257.3 H475.5 H489.5" fill="none" stroke="#444" stroke-width="0.9"/>
<circle cx="302.5" cy="191.2" r="1.45" fill="#fff" stroke="#333" stroke-width="0.75"/>
<circle cx="305.3" cy="193.4" r="1.45" fill="#fff" stroke="#333" stroke-width="0.75"/>
<circle cx="311.5" cy="195.3" r="1.45" fill="#fff" stroke="#333" stroke-width="0.75"/>
<circle cx="345.0" cy="198.5" r="1.45" fill="#fff" stroke="#333" stroke-width="0.75"/>
<circle cx="349.8" cy="201.8" r="1.45" fill="#fff" stroke="#333" stroke-width="0.75"/>
<circle cx="357.0" cy="205.2" r="1.45" fill="#fff" stroke="#333" stroke-width="0.75"/>
<circle cx="366.5" cy="207.0" r="1.45" fill="#fff" stroke="#333" stroke-width="0.75"/>
<circle cx="369.0" cy="210.0" r="1.45" fill="#fff" stroke="#333" stroke-width="0.75"/>
<circle cx="383.0" cy="212.0" r="1.45" fill="#fff" stroke="#333" stroke-width="0.75"/>
<circle cx="386.0" cy="215.2" r="1.45" fill="#fff" stroke="#333" stroke-width="0.75"/>
<circle cx="423.0" cy="218.5" r="1.45" fill="#fff" stroke="#333" stroke-width="0.75"/>
<circle cx="427.5" cy="223.0" r="1.45" fill="#fff" stroke="#333" stroke-width="0.75"/>
<circle cx="429.5" cy="227.1" r="1.45" fill="#fff" stroke="#333" stroke-width="0.75"/>
<circle cx="459.6" cy="241.5" r="1.45" fill="#fff" stroke="#333" stroke-width="0.75"/>
<circle cx="461.5" cy="257.3" r="1.45" fill="#fff" stroke="#333" stroke-width="0.75"/>
<path d="M312.8,195.3 L314.2,194.20000000000002 L315.59999999999997,195.3 L314.2,196.4 Z M314.2,193.5 V197.10000000000002" fill="#111" stroke="#111" stroke-width="0.5"/>
<path d="M320.6,195.3 L322.0,194.20000000000002 L323.4,195.3 L322.0,196.4 Z M322.0,193.5 V197.10000000000002" fill="#111" stroke="#111" stroke-width="0.5"/>
<path d="M323.40000000000003,195.3 L324.8,194.20000000000002 L326.2,195.3 L324.8,196.4 Z M324.8,193.5 V197.10000000000002" fill="#111" stroke="#111" stroke-width="0.5"/>
<path d="M327.70000000000005,195.3 L329.1,194.20000000000002 L330.5,195.3 L329.1,196.4 Z M329.1,193.5 V197.10000000000002" fill="#111" stroke="#111" stroke-width="0.5"/>
<path d="M331.1,195.3 L332.5,194.20000000000002 L333.9,195.3 L332.5,196.4 Z M332.5,193.5 V197.10000000000002" fill="#111" stroke="#111" stroke-width="0.5"/>
<path d="M334.40000000000003,195.3 L335.8,194.20000000000002 L337.2,195.3 L335.8,196.4 Z M335.8,193.5 V197.10000000000002" fill="#111" stroke="#111" stroke-width="0.5"/>
<path d="M341.0,195.3 L342.4,194.20000000000002 L343.79999999999995,195.3 L342.4,196.4 Z M342.4,193.5 V197.10000000000002" fill="#111" stroke="#111" stroke-width="0.5"/>
<path d="M353.6,201.8 L355.0,200.70000000000002 L356.4,201.8 L355.0,202.9 Z M355.0,200.0 V203.60000000000002" fill="#111" stroke="#111" stroke-width="0.5"/>
<path d="M359.90000000000003,205.2 L361.3,204.1 L362.7,205.2 L361.3,206.29999999999998 Z M361.3,203.39999999999998 V207.0" fill="#111" stroke="#111" stroke-width="0.5"/>
<path d="M370.6,210.0 L372.0,208.9 L373.4,210.0 L372.0,211.1 Z M372.0,208.2 V211.8" fill="#111" stroke="#111" stroke-width="0.5"/>
<path d="M373.1,210.0 L374.5,208.9 L375.9,210.0 L374.5,211.1 Z M374.5,208.2 V211.8" fill="#111" stroke="#111" stroke-width="0.5"/>
<path d="M376.6,210.0 L378.0,208.9 L379.4,210.0 L378.0,211.1 Z M378.0,208.2 V211.8" fill="#111" stroke="#111" stroke-width="0.5"/>
<path d="M379.1,210.0 L380.5,208.9 L381.9,210.0 L380.5,211.1 Z M380.5,208.2 V211.8" fill="#111" stroke="#111" stroke-width="0.5"/>
<path d="M394.0,215.2 L395.4,214.1 L396.79999999999995,215.2 L395.4,216.29999999999998 Z M395.4,213.39999999999998 V217.0" fill="#111" stroke="#111" stroke-width="0.5"/>
<path d="M402.40000000000003,215.2 L403.8,214.1 L405.2,215.2 L403.8,216.29999999999998 Z M403.8,213.39999999999998 V217.0" fill="#111" stroke="#111" stroke-width="0.5"/>
<path d="M407.40000000000003,215.2 L408.8,214.1 L410.2,215.2 L408.8,216.29999999999998 Z M408.8,213.39999999999998 V217.0" fill="#111" stroke="#111" stroke-width="0.5"/>
<path d="M416.1,215.2 L417.5,214.1 L418.9,215.2 L417.5,216.29999999999998 Z M417.5,213.39999999999998 V217.0" fill="#111" stroke="#111" stroke-width="0.5"/>
<path d="M424.1,218.5 L425.5,217.4 L426.9,218.5 L425.5,219.6 Z M425.5,216.7 V220.3" fill="#111" stroke="#111" stroke-width="0.5"/>
<path d="M430.6,227.1 L432.0,226.0 L433.4,227.1 L432.0,228.2 Z M432.0,225.29999999999998 V228.9" fill="#111" stroke="#111" stroke-width="0.5"/>
<path d="M432.6,227.1 L434.0,226.0 L435.4,227.1 L434.0,228.2 Z M434.0,225.29999999999998 V228.9" fill="#111" stroke="#111" stroke-width="0.5"/>
<path d="M434.6,227.1 L436.0,226.0 L437.4,227.1 L436.0,228.2 Z M436.0,225.29999999999998 V228.9" fill="#111" stroke="#111" stroke-width="0.5"/>
<path d="M437.1,227.1 L438.5,226.0 L439.9,227.1 L438.5,228.2 Z M438.5,225.29999999999998 V228.9" fill="#111" stroke="#111" stroke-width="0.5"/>
<path d="M445.6,227.1 L447.0,226.0 L448.4,227.1 L447.0,228.2 Z M447.0,225.29999999999998 V228.9" fill="#111" stroke="#111" stroke-width="0.5"/>
<path d="M448.6,227.1 L450.0,226.0 L451.4,227.1 L450.0,228.2 Z M450.0,225.29999999999998 V228.9" fill="#111" stroke="#111" stroke-width="0.5"/>
<path d="M451.6,227.1 L453.0,226.0 L454.4,227.1 L453.0,228.2 Z M453.0,225.29999999999998 V228.9" fill="#111" stroke="#111" stroke-width="0.5"/>
<path d="M454.3,227.1 L455.7,226.0 L457.09999999999997,227.1 L455.7,228.2 Z M455.7,225.29999999999998 V228.9" fill="#111" stroke="#111" stroke-width="0.5"/>
<path d="M474.1,257.3 L475.5,256.2 L476.9,257.3 L475.5,258.40000000000003 Z M475.5,255.5 V259.1" fill="#111" stroke="#111" stroke-width="0.5"/>
<path d="M488.1,257.3 L489.5,256.2 L490.9,257.3 L489.5,258.40000000000003 Z M489.5,255.5 V259.1" fill="#111" stroke="#111" stroke-width="0.5"/>
<text x="449.4" y="201.4" class="lab">-238A</text>
<text x="446.9" y="267.6" class="lab">-238G</text>
<text x="483.5" y="194.6" class="pv"><tspan font-style="italic">p</tspan>=0.07</text>
</svg>
</body></html>
